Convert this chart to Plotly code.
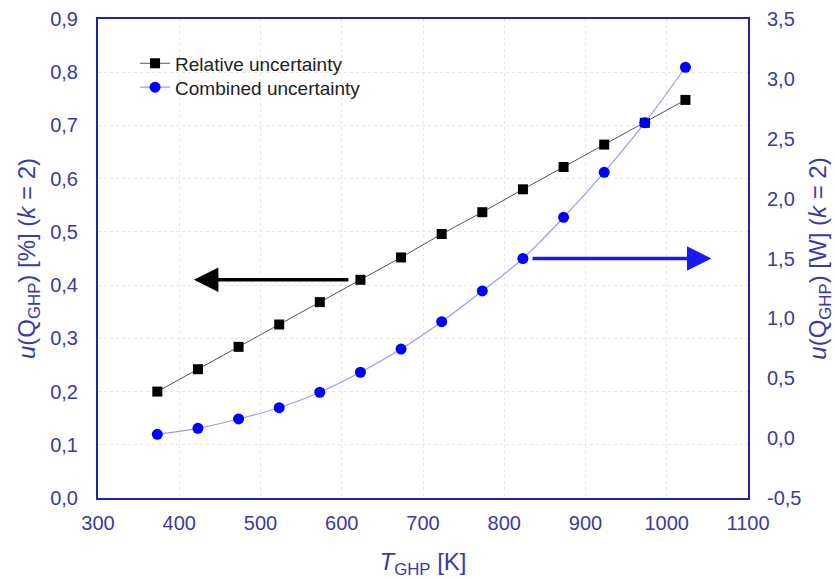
import plotly.graph_objects as go

T = [373, 423, 473, 523, 573, 623, 673, 723, 773, 823, 873, 923, 973, 1023]
rel_unc = [0.200, 0.242, 0.284, 0.326, 0.368, 0.410, 0.452, 0.496, 0.537, 0.580, 0.622, 0.664, 0.705, 0.748]
comb_unc = [0.032, 0.082, 0.160, 0.254, 0.383, 0.550, 0.744, 0.972, 1.229, 1.500, 1.844, 2.220, 2.634, 3.097]

x_ticks = [300, 400, 500, 600, 700, 800, 900, 1000, 1100]
y1_ticks = [0.0, 0.1, 0.2, 0.3, 0.4, 0.5, 0.6, 0.7, 0.8, 0.9]
y1_labels = ["0,0", "0,1", "0,2", "0,3", "0,4", "0,5", "0,6", "0,7", "0,8", "0,9"]
y2_ticks = [-0.5, 0.0, 0.5, 1.0, 1.5, 2.0, 2.5, 3.0, 3.5]
y2_labels = ["-0,5", "0,0", "0,5", "1,0", "1,5", "2,0", "2,5", "3,0", "3,5"]

AX = "#2323a8"
TXT = "#3a3aa8"
FONT = "Liberation Sans, Arial, sans-serif"

fig = go.Figure()
fig.add_trace(go.Scatter(
    x=T, y=rel_unc, name="Relative uncertainty", mode="lines+markers",
    line=dict(color="#555555", width=1),
    marker=dict(symbol="square", size=10, color="#000000"),
    yaxis="y", legend="legend"))
fig.add_trace(go.Scatter(
    x=T, y=comb_unc, name="Combined uncertainty", mode="lines+markers",
    line=dict(color="#9a9af5", width=1.2, shape="spline"),
    marker=dict(symbol="circle", size=11, color="#0000ff"),
    yaxis="y2", legend="legend2"))

# arrows
fig.add_annotation(x=418, y=0.41, ax=610, ay=0.41, xref="x", yref="y", axref="x", ayref="y",
                   showarrow=True, arrowhead=2, arrowsize=1.4, arrowwidth=3.5, arrowcolor="#000000", text="")
fig.add_annotation(x=1055, y=1.5, ax=833, ay=1.5, xref="x", yref="y2", axref="x", ayref="y2",
                   showarrow=True, arrowhead=2, arrowsize=1.4, arrowwidth=3.5, arrowcolor="#1a1af0", text="")

leg_common = dict(x=0.057, xanchor="left", yanchor="top", bgcolor="rgba(0,0,0,0)",
                  font=dict(size=19, color="#222222"))

fig.update_layout(
    width=835, height=579,
    margin=dict(l=98, r=87, t=19, b=81),
    paper_bgcolor="white", plot_bgcolor="white",
    font=dict(family=FONT, size=20, color=TXT),
    showlegend=True,
    legend=dict(y=0.947, **leg_common),
    legend2=dict(y=0.897, **leg_common),
    xaxis=dict(range=[300, 1100], tickvals=x_ticks, showline=True, linecolor=AX, linewidth=2,
               mirror=True, showgrid=True, gridcolor="#e6e6e6", griddash="dot", zeroline=False,
               automargin=False, ticks="", ticklabelstandoff=6, tickfont=dict(size=20, color=TXT),
               title=dict(text="<i>T</i><sub>GHP</sub> [K]", font=dict(size=24, color=TXT), standoff=22)),
    yaxis=dict(range=[0, 0.9], tickvals=y1_ticks, ticktext=y1_labels, showline=True, linecolor=AX,
               linewidth=2, mirror=True, showgrid=True, gridcolor="#e6e6e6", griddash="dot",
               zeroline=False, automargin=False, ticks="", ticklabelstandoff=14,
               tickfont=dict(size=20, color=TXT),
               title=dict(text="<i>u</i>(Q<sub>GHP</sub>) [%] (<i>k</i> = 2)", font=dict(size=24, color=TXT), standoff=8)),
    yaxis2=dict(range=[-0.5, 3.5], tickvals=y2_ticks, ticktext=y2_labels, overlaying="y", side="right",
                showline=True, linecolor=AX, linewidth=2, showgrid=False, zeroline=False, ticks="",
                automargin=False, ticklabelstandoff=13, tickfont=dict(size=20, color=TXT),
                title=dict(text="<i>u</i>(Q<sub>GHP</sub>) [W] (<i>k</i> = 2)", font=dict(size=24, color=TXT), standoff=12)),
)

fig.write_html("out.html")
